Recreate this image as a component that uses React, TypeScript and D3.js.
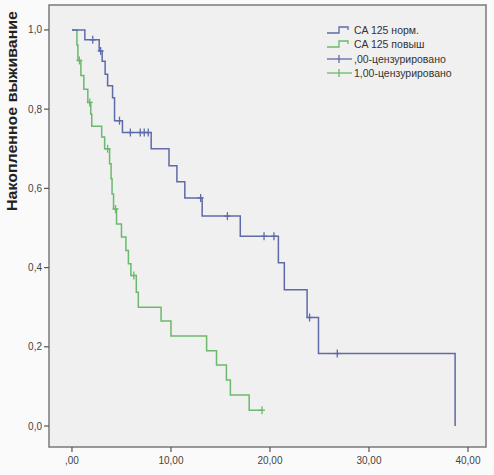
import React from "react";
import * as d3 from "d3";

const blueTimes = [0, 1.3, 2.75, 3.05, 3.35, 3.6, 4.1, 4.3, 5.1, 8.0, 9.8, 10.6, 11.4, 13.15, 17.0, 20.85, 21.45, 23.75, 24.9, 38.7];
const blueValues = [1, 0.975, 0.947, 0.921, 0.888, 0.859, 0.829, 0.771, 0.741, 0.7, 0.657, 0.617, 0.576, 0.53, 0.479, 0.412, 0.344, 0.274, 0.183, 0];
const blueCensorTimes = [2.1, 2.9, 4.8, 5.9, 6.9, 7.3, 7.7, 13.0, 15.7, 19.4, 20.4, 24.0, 26.8];

const greenTimes = [0, 0.5, 0.6, 0.9, 1.2, 1.6, 1.9, 2.0, 3.0, 3.3, 3.8, 3.95, 4.05, 4.2, 4.5, 5.0, 5.45, 5.7, 5.95, 6.5, 6.7, 9.0, 10.0, 13.6, 14.6, 15.6, 16.0, 17.9, 19.3];
const greenValues = [1, 0.962, 0.923, 0.885, 0.85, 0.817, 0.787, 0.757, 0.73, 0.7, 0.662, 0.624, 0.586, 0.548, 0.51, 0.477, 0.443, 0.41, 0.38, 0.338, 0.3, 0.265, 0.227, 0.19, 0.154, 0.116, 0.078, 0.04, 0.04];
const greenCensorTimes = [0.75, 1.8, 3.6, 4.4, 6.25, 19.2];

const xTicks = [0, 10, 20, 30, 40];
const xTickLabels = [",00", "10,00", "20,00", "30,00", "40,00"];
const yTicks = [0, 0.2, 0.4, 0.6, 0.8, 1.0];
const yTickLabels = ["0,0", "0,2", "0,4", "0,6", "0,8", "1,0"];

const legendLabels = ["CA 125 норм.", "CA 125 повыш", ",00-цензурировано", "1,00-цензурировано"];
const yTitle = "Накопленное выживание";

const BLUE = "#5f6aa8";
const GREEN = "#6cb86c";
const FONT = "'Liberation Sans', Arial, sans-serif";

export default function App() {
  const W = 494, H = 475;
  const x = d3.scaleLinear().domain([-2.32, 41.82]).range([49, 486]);
  const y = d3.scaleLinear().domain([-0.053, 1.063]).range([447, 5]);

  const line = d3.line<[number, number]>().x(d => x(d[0])).y(d => y(d[1])).curve(d3.curveStepAfter);
  const bluePts = blueTimes.map((t, i) => [t, blueValues[i]] as [number, number]);
  const greenPts = greenTimes.map((t, i) => [t, greenValues[i]] as [number, number]);

  const stepVal = (times: number[], vals: number[], t: number) => {
    let v = vals[0];
    for (let i = 0; i < times.length; i++) if (times[i] <= t) v = vals[i];
    return v;
  };

  const [x0, x1] = x.range();
  const [y0, y1] = y.range();

  const censor = (times: number[], tv: number[], vals: number[], color: string, key: string) =>
    times.map((t, i) => {
      const cx = x(t), cy = y(stepVal(tv, vals, t));
      return (
        <g key={key + i} stroke={color} strokeWidth={1.3}>
          <line x1={cx} x2={cx} y1={cy - 4} y2={cy + 4} />
          <line x1={cx - 3} x2={cx + 3} y1={cy} y2={cy} />
        </g>
      );
    });

  const legendY = [30, 44, 59, 73];

  return (
    <svg width={W} height={H} style={{ position: "absolute", left: 0, top: 0, background: "#fafafa" }} fontFamily={FONT}>
      <rect x={x0} y={y1} width={x1 - x0} height={y0 - y1} fill="#f0f0f0" stroke="#7a7a7a" strokeWidth={1.5} />
      {yTicks.map((v, i) => (
        <g key={"yt" + i}>
          <line x1={x0 - 5} x2={x0} y1={y(v)} y2={y(v)} stroke="#555" strokeWidth={1.2} />
          <text x={x0 - 7} y={y(v)} dy="0.35em" textAnchor="end" fontSize={10} fill="#444">{yTickLabels[i]}</text>
        </g>
      ))}
      {xTicks.map((v, i) => (
        <g key={"xt" + i}>
          <line x1={x(v)} x2={x(v)} y1={y0} y2={y0 + 5} stroke="#555" strokeWidth={1.2} />
          <text x={x(v)} y={y0 + 17} textAnchor="middle" fontSize={10} fill="#444">{xTickLabels[i]}</text>
        </g>
      ))}
      <text transform={`translate(17,111) rotate(-90)`} textAnchor="middle" fontSize={15} fontWeight="bold" fill="#222" textLength={200} lengthAdjust="spacingAndGlyphs">{yTitle}</text>

      <path d={line(greenPts) || ""} fill="none" stroke={GREEN} strokeWidth={1.5} />
      <path d={line(bluePts) || ""} fill="none" stroke={BLUE} strokeWidth={1.5} />
      {censor(greenCensorTimes, greenTimes, greenValues, GREEN, "gc")}
      {censor(blueCensorTimes, blueTimes, blueValues, BLUE, "bc")}

      {legendLabels.map((lab, i) => {
        const ly = legendY[i];
        const color = i % 2 === 0 ? BLUE : GREEN;
        return (
          <g key={"lg" + i}>
            {i < 2 ? (
              <path d={`M327,${ly + 3}H339V${ly - 3}H348V${ly}`} fill="none" stroke={color} strokeWidth={1.3} />
            ) : (
              <g stroke={color} strokeWidth={1.3}>
                <line x1={327} x2={352} y1={ly} y2={ly} />
                <line x1={339} x2={339} y1={ly - 4} y2={ly + 4} />
              </g>
            )}
            <text x={354} y={ly} dy="0.35em" fontSize={10.5} fill="#333">{lab}</text>
          </g>
        );
      })}
    </svg>
  );
}
